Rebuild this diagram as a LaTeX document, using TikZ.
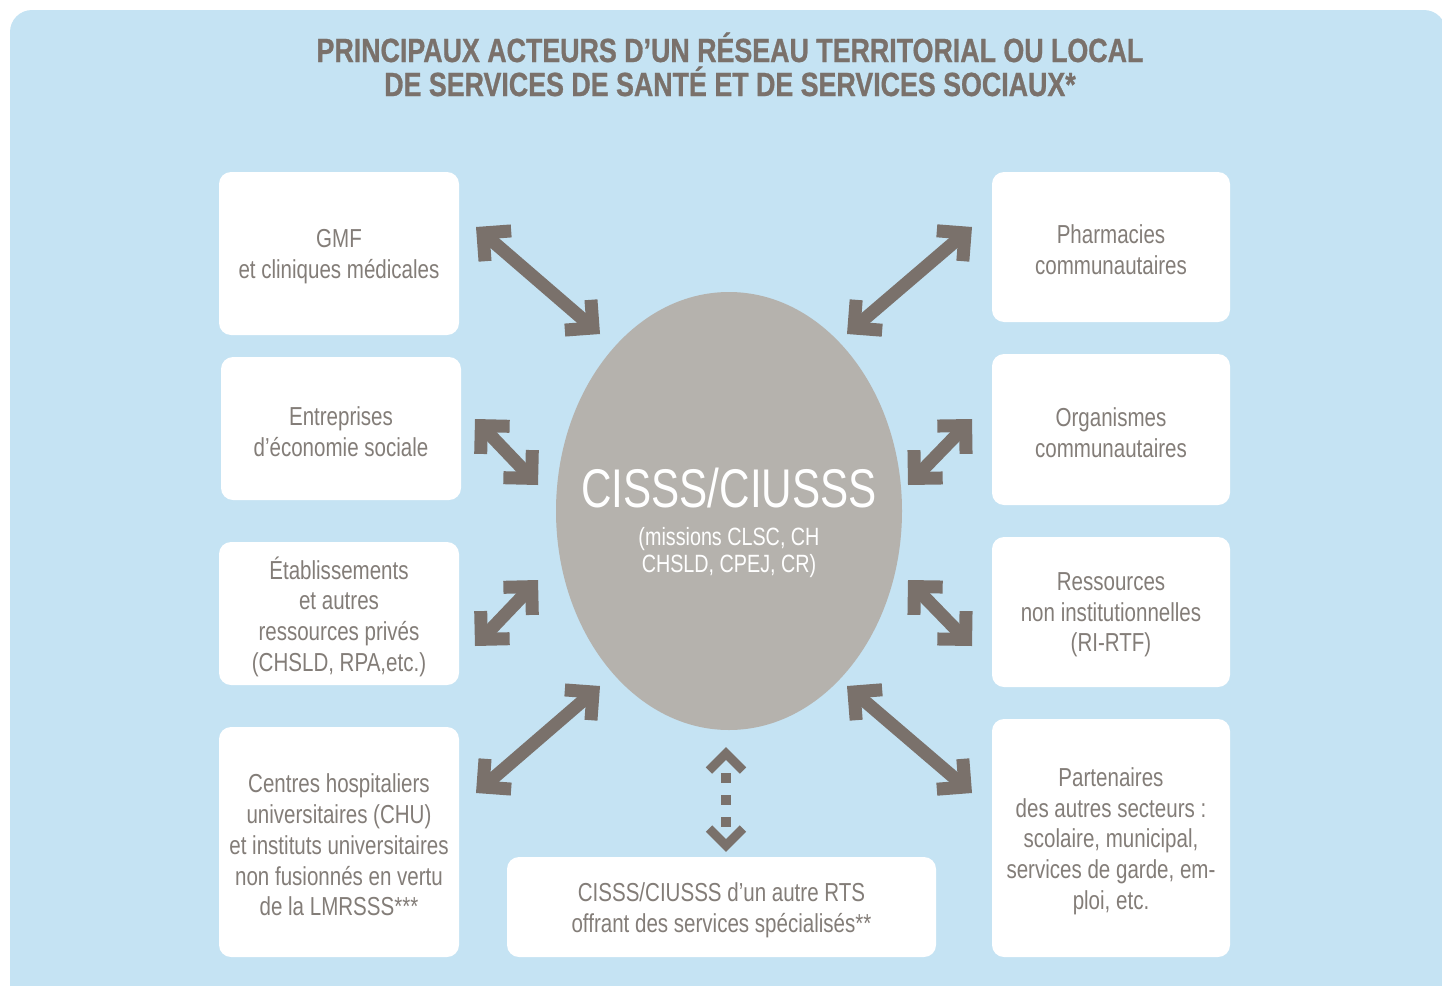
\documentclass[tikz,border=0pt]{standalone}
\usepackage{fontspec}
\usetikzlibrary{arrows.meta,calc}
\newfontfamily\titlefamily{Liberation Sans}[FakeStretch=0.80, BoldFeatures={FakeBold=0.8}]
\newfontfamily\boxfamily{Liberation Sans}[FakeStretch=0.79]
\newfontfamily\bigfamily{Liberation Sans}[FakeStretch=0.775]
\definecolor{bgblue}{HTML}{C5E3F3}
\definecolor{arrowgray}{HTML}{7A716B}
\definecolor{ellgray}{HTML}{B5B2AD}
\definecolor{titlegray}{HTML}{7A716B}
\definecolor{textgray}{HTML}{837D78}
\tikzset{
  box/.style={fill=white, rounded corners=12pt, inner sep=0pt},
  boxtext/.style={inner sep=0pt, align=center, text=textgray,
    font=\boxfamily\fontsize{26}{30.7}\selectfont},
  bigarrow/.style={draw=arrowgray, line width=13pt,
    {Straight Barb[length=20pt 0, width=40pt 0]}-{Straight Barb[length=20pt 0, width=40pt 0]}},
  dotshaft/.style={draw=arrowgray, line width=10pt, dash pattern=on 10pt off 12pt},
  chev/.style={draw=arrowgray, line width=9pt, miter limit=10},
  titletext/.style={text=titlegray, anchor=base, inner sep=0pt,
    font=\titlefamily\bfseries\fontsize{33.5}{36}\selectfont}
}
\begin{document}
\begin{tikzpicture}[x=1pt,y=-1pt]
\useasboundingbox (0,0) rectangle (1442,985);
\begin{scope}
\clip (0,0) rectangle (1442,985);
\fill[bgblue, rounded corners=22pt] (10,10) rectangle (1446,1010);
\end{scope}

\node[titletext] (t1) at (730,62) {PRINCIPAUX ACTEURS D’UN RÉSEAU TERRITORIAL OU LOCAL};
\node[titletext] (t2) at (730,96) {DE SERVICES DE SANTÉ ET DE SERVICES SOCIAUX*};

% center ellipse
\fill[ellgray] (729,511) ellipse [x radius=173, y radius=219];
\node[inner sep=0pt, text=white, font=\bigfamily\fontsize{54.5}{60}\selectfont, anchor=base] (cis) at (729,507) {CISSS/CIUSSS};
\node[inner sep=0pt, text=white, align=center, anchor=base, font=\boxfamily\fontsize{25}{27}\selectfont] (miss) at (729,572) {(missions CLSC, CH\\CHSLD, CPEJ, CR)};

% left boxes
\node[box, minimum width=240, minimum height=163] (gmf) at (339,253.5) {};
\node[box, minimum width=240, minimum height=143] (ent) at (341,428.5) {};
\node[box, minimum width=240, minimum height=143] (eta) at (339,613.5) {};
\node[box, minimum width=240, minimum height=230] (chu) at (339,842) {};
% right boxes
\node[box, minimum width=238, minimum height=150] (pha) at (1111,247) {};
\node[box, minimum width=238, minimum height=151] (org) at (1111,429.5) {};
\node[box, minimum width=238, minimum height=150] (res) at (1111,612) {};
\node[box, minimum width=238, minimum height=238] (par) at (1111,838) {};
% bottom box
\node[box, minimum width=429, minimum height=100] (rts) at (721.5,907) {};

% box texts
\node[boxtext] (gmft) at ($(gmf)+(0,3)$) {GMF\\et cliniques médicales};
\node[boxtext] (entt) at ($(ent)+(0,3)$) {Entreprises\\d’économie sociale};
\node[boxtext] (etat) at ($(eta)+(0,3)$) {Établissements\\et autres\\ressources privés\\(CHSLD, RPA,etc.)};
\node[boxtext] (chut) at ($(chu)+(0,3)$) {Centres hospitaliers\\universitaires (CHU)\\et instituts universitaires\\non fusionnés en vertu\\de la LMRSSS***};
\node[boxtext] (phat) at ($(pha)+(0,3)$) {Pharmacies\\communautaires};
\node[boxtext] (orgt) at ($(org)+(0,3)$) {Organismes\\communautaires};
\node[boxtext] (rest) at ($(res)+(0,3)$) {Ressources\\non institutionnelles\\(RI-RTF)};
\node[boxtext] (part) at ($(par)+(0,3)$) {Partenaires\\des autres secteurs :\\scolaire, municipal,\\services de garde, em-\\ploi, etc.};
\node[boxtext] (rtst) at ($(rts)+(0,3)$) {CISSS/CIUSSS d’un autre RTS\\offrant des services spécialisés**};

% arrow end points
\coordinate (a1s) at (476,227);  \coordinate (a1e) at (600,334);
\coordinate (a2s) at (972,227);  \coordinate (a2e) at (847,334);
\coordinate (a3s) at (475,419);  \coordinate (a3e) at (538,485);
\coordinate (a4s) at (972,419);  \coordinate (a4e) at (908,485);
\coordinate (a5s) at (475,646);  \coordinate (a5e) at (538,580);
\coordinate (a6s) at (972,646);  \coordinate (a6e) at (908,580);
\coordinate (a7s) at (476,793);  \coordinate (a7e) at (600,686);
\coordinate (a8s) at (972,793);  \coordinate (a8e) at (847,686);

\draw[bigarrow] (a1s) -- (a1e);
\draw[bigarrow] (a2s) -- (a2e);
\draw[bigarrow] (a3s) -- (a3e);
\draw[bigarrow] (a4s) -- (a4e);
\draw[bigarrow] (a5s) -- (a5e);
\draw[bigarrow] (a6s) -- (a6e);
\draw[bigarrow] (a7s) -- (a7e);
\draw[bigarrow] (a8s) -- (a8e);

% dotted vertical arrow
\coordinate (dtop) at (726,753.5);
\coordinate (dbot) at (726,845.5);
\coordinate (ds1) at (726,773);
\coordinate (ds2) at (726,827);
\draw[dotshaft] (ds1) -- (ds2);
\draw[chev] ($(dtop)+(-17,17)$) -- (dtop) -- ($(dtop)+(17,17)$);
\draw[chev] ($(dbot)+(-17,-17)$) -- (dbot) -- ($(dbot)+(17,-17)$);
\end{tikzpicture}
\end{document}
